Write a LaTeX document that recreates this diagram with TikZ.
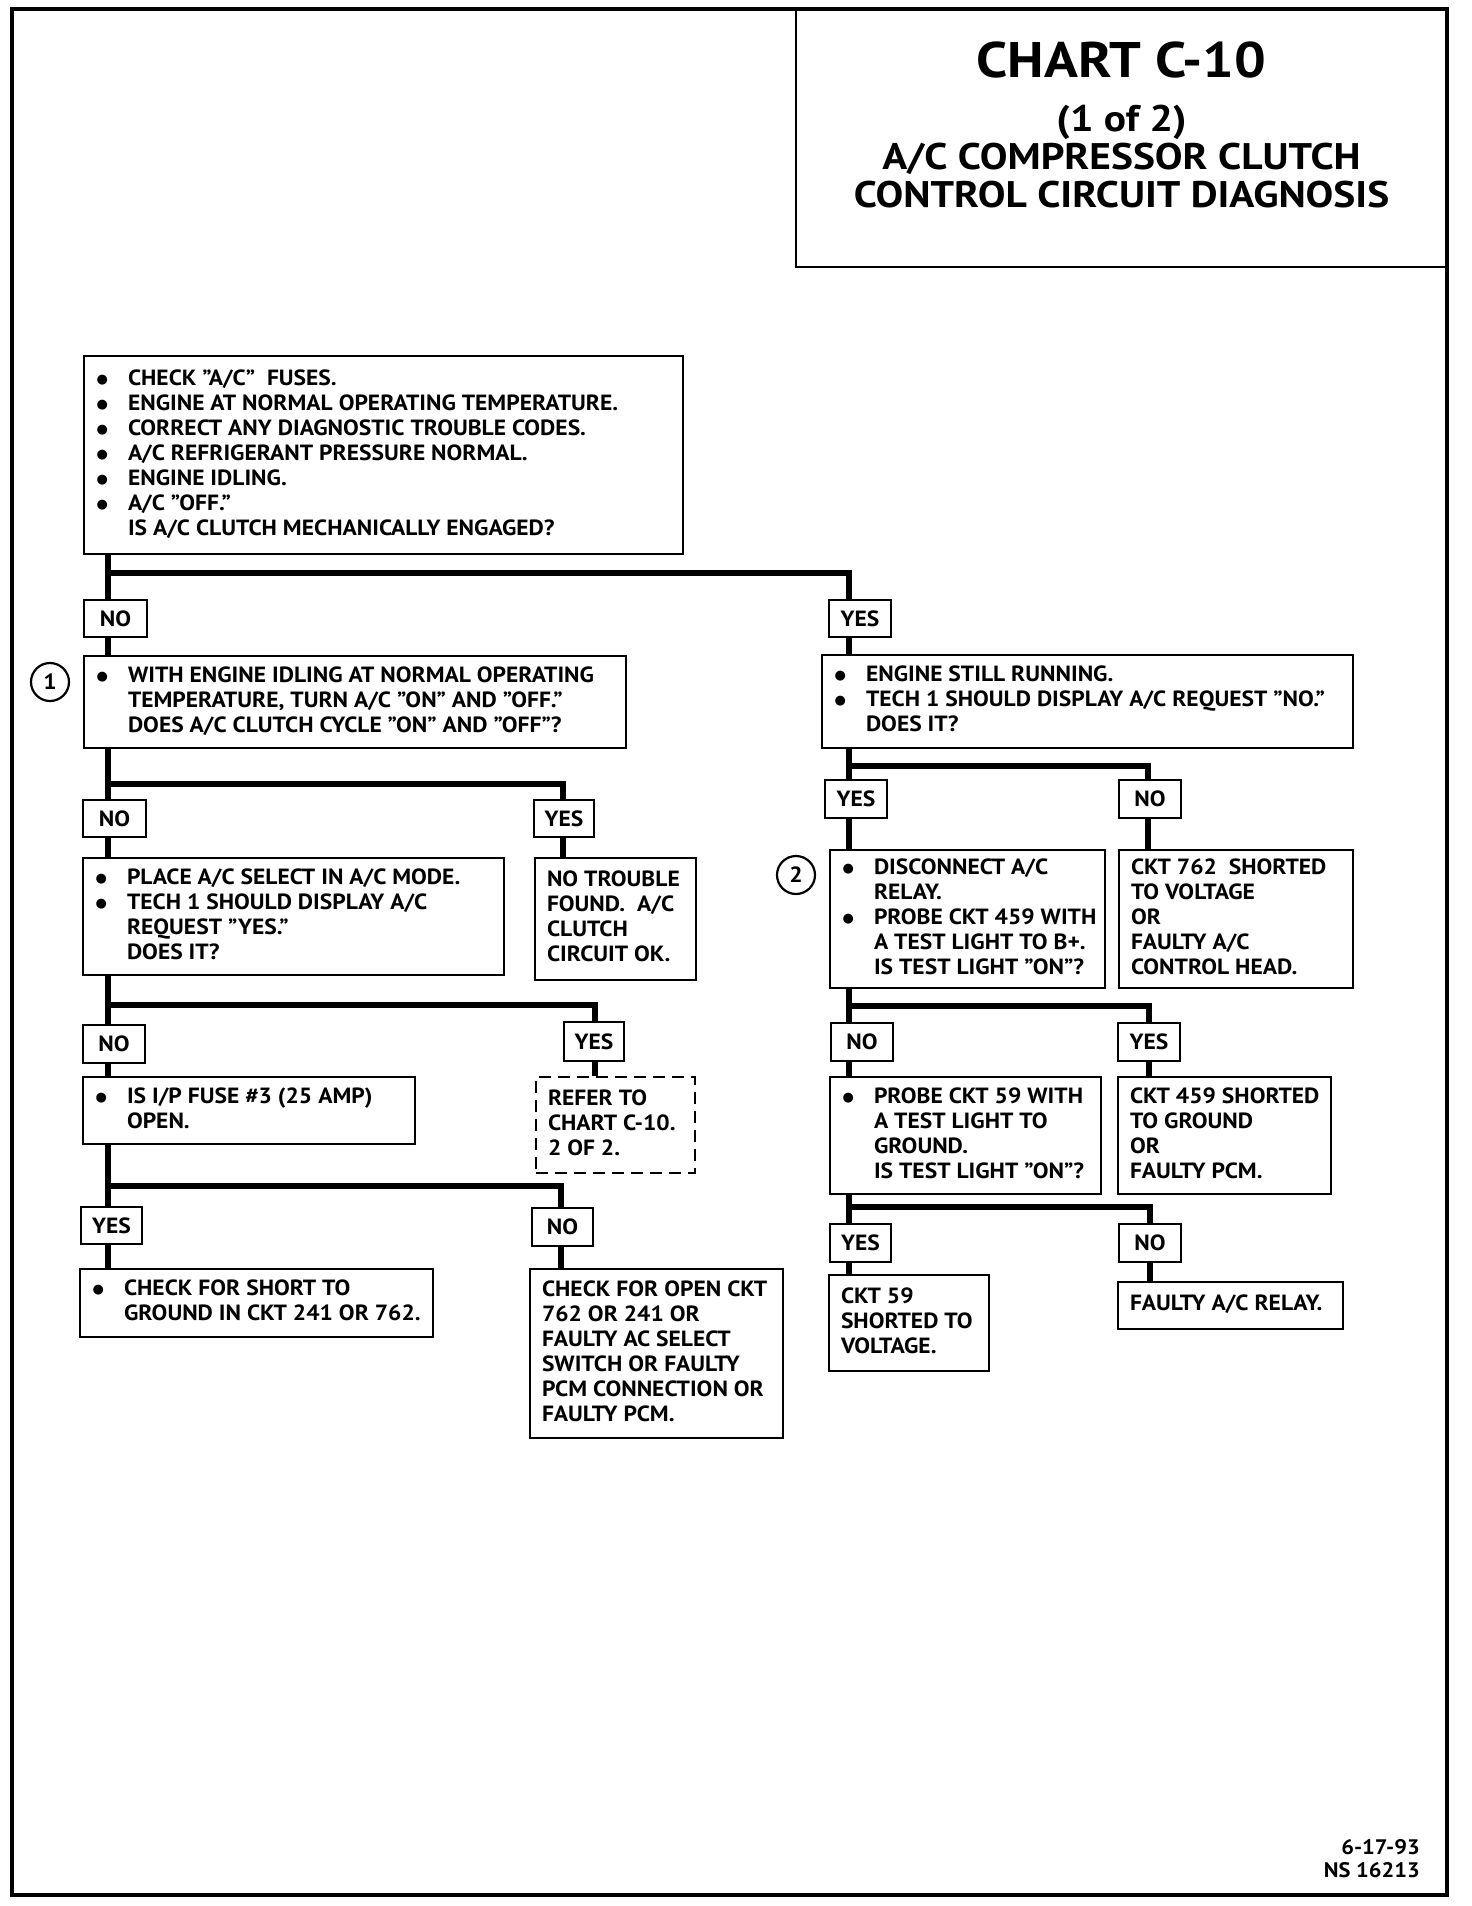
\documentclass[tikz,border=0pt]{standalone}
\usepackage{fontspec}
\setmainfont{PT Sans}[FakeStretch=1.07]
\newfontfamily\titlefont{PT Sans}[FakeStretch=1.12]
\newfontfamily\dotfont{DejaVu Sans}
\newcommand{\bl}[1]{\makebox[32pt][l]{\hspace*{0.5pt}\raisebox{1.8pt}{\dotfont\fontsize{13}{13}\selectfont ●}}#1}
\newcommand{\cl}[1]{\hspace*{32pt}#1}
\tikzset{
  boxst/.style={draw, line width=2.6pt, inner sep=0pt, fill=white, font=\bfseries\fontsize{22}{25}\selectfont},
  dashbox/.style={boxst, dash pattern=on 12pt off 7pt},
  labst/.style={draw, line width=2.6pt, inner sep=0pt, fill=white, font=\bfseries\fontsize{22}{25}\selectfont},
  conn/.style={line width=5.5pt},
  circst/.style={draw, circle, line width=2.2pt, minimum size=38pt, inner sep=0pt, font=\bfseries\fontsize{22}{25}\selectfont},
}
\newcommand{\mybox}[7][]{%
  \node[boxst,#1,minimum width={(#5-#3)*1pt},minimum height={(#6-#4)*1pt}] (#2) at ({(#3+#5)/2},{(#4+#6)/2})
   {\makebox[\dimexpr #5pt-#3pt-24pt\relax][l]{\begin{tabular}{@{}l@{}}#7\end{tabular}}};}
\newcommand{\lab}[6]{%
  \node[labst,minimum width={(#4-#2)*1pt},minimum height={(#5-#3)*1pt}] (#1) at ({(#2+#4)/2},{(#3+#5)/2}) {#6};}
\begin{document}
\begin{tikzpicture}[x=1pt,y=-1pt]
\useasboundingbox (0,0) rectangle (1472,1906);
% page frame
\draw[line width=4.5pt] (12,9) rectangle (1447,1895);
% title
\node[draw, line width=2.6pt, inner sep=0pt, minimum width=651pt, minimum height=258pt, font=\titlefont\bfseries] (title) at (1121.5,138)
 {\parbox[c][258pt][t]{640pt}{\centering\vspace*{33pt}{\fontsize{50}{38}\selectfont CHART C-10}\\[16pt]
  \fontsize{37}{38}\selectfont (1 of 2)\\A/C COMPRESSOR CLUTCH\\CONTROL CIRCUIT DIAGNOSIS\par}};
% boxes
\mybox{A}{84}{356}{683}{554}{\bl{CHECK "A/C"\ \ FUSES.}\\\bl{ENGINE AT NORMAL OPERATING TEMPERATURE.}\\\bl{CORRECT ANY DIAGNOSTIC TROUBLE CODES.}\\\bl{A/C REFRIGERANT PRESSURE NORMAL.}\\\bl{ENGINE IDLING.}\\\bl{A/C "OFF."}\\\cl{IS A/C CLUTCH MECHANICALLY ENGAGED?}}
\lab{NO1}{84}{600}{147}{637}{NO}
\lab{YES1}{829}{600}{891}{637}{YES}
\node[circst] (c1) at (50,682) {1};
\mybox{B}{84}{656}{626}{748}{\bl{WITH ENGINE IDLING AT NORMAL OPERATING}\\\cl{TEMPERATURE, TURN A/C "ON" AND "OFF."}\\\cl{DOES A/C CLUTCH CYCLE "ON" AND "OFF"?}}
\mybox{C}{822}{655}{1353}{748}{\bl{ENGINE STILL RUNNING.}\\\bl{TECH 1 SHOULD DISPLAY A/C REQUEST "NO."}\\\cl{DOES IT?}}
\lab{NO2}{83}{800}{146}{837}{NO}
\lab{YES2}{534}{800}{594}{837}{YES}
\mybox{D}{83}{858}{504}{975}{\bl{PLACE A/C SELECT IN A/C MODE.}\\\bl{TECH 1 SHOULD DISPLAY A/C}\\\cl{REQUEST "YES."}\\\cl{DOES IT?}}
\mybox{E}{535}{858}{696}{980}{NO TROUBLE\\FOUND.\ \ A/C\\CLUTCH\\CIRCUIT OK.}
\lab{NO3}{83}{1025}{145}{1063}{NO}
\lab{YES3}{564}{1022}{624}{1061}{YES}
\mybox{F}{83}{1077}{415}{1144}{\bl{IS I/P FUSE \#3 (25 AMP)}\\\cl{OPEN.}}
\mybox[dashbox]{G}{536}{1077}{695}{1173}{REFER TO\\CHART C-10.\\2 OF 2.}
\lab{YES4}{81}{1207}{142}{1244}{YES}
\lab{NO4}{532}{1208}{593}{1246}{NO}
\mybox{H}{80}{1269}{433}{1337}{\bl{CHECK FOR SHORT TO}\\\cl{GROUND IN CKT 241 OR 762.}}
\mybox{I}{530}{1269}{783}{1438}{CHECK FOR OPEN CKT\\762 OR 241 OR\\FAULTY AC SELECT\\SWITCH OR FAULTY\\PCM CONNECTION OR\\FAULTY PCM.}
\lab{YES5}{825}{780}{887}{818}{YES}
\lab{NO5}{1119}{780}{1181}{818}{NO}
\node[circst] (c2) at (796,875) {2};
\mybox{J}{830}{850}{1105}{988}{\bl{DISCONNECT A/C}\\\cl{RELAY.}\\\bl{PROBE CKT 459 WITH}\\\cl{A TEST LIGHT TO B+.}\\\cl{IS TEST LIGHT "ON"?}}
\mybox{K}{1119}{850}{1353}{988}{CKT 762\ \ SHORTED\\TO VOLTAGE\\OR\\FAULTY A/C\\CONTROL HEAD.}
\lab{NO6}{831}{1023}{893}{1061}{NO}
\lab{YES6}{1118}{1023}{1180}{1061}{YES}
\mybox{L}{830}{1077}{1101}{1194}{\bl{PROBE CKT 59 WITH}\\\cl{A TEST LIGHT TO}\\\cl{GROUND.}\\\cl{IS TEST LIGHT "ON"?}}
\mybox{M}{1118}{1077}{1331}{1194}{CKT 459 SHORTED\\TO GROUND\\OR\\FAULTY PCM.}
\lab{YES7}{830}{1224}{891}{1262}{YES}
\lab{NO7}{1119}{1224}{1181}{1262}{NO}
\mybox{N}{829}{1275}{989}{1371}{CKT 59\\SHORTED TO\\VOLTAGE.}
\mybox{O}{1118}{1282}{1343}{1329}{FAULTY A/C RELAY.}
% footer
\node[anchor=east, align=right, font=\bfseries\fontsize{21}{23}\selectfont, inner sep=0pt] (foot) at (1420,1859) {6-17-93\\NS 16213};
% trunk coordinates
\coordinate (tL) at (108,0);
\coordinate (tR) at (849,0);
\coordinate (bA) at (849,573);
\coordinate (bB) at (563,784);
\coordinate (bD) at (595,1005);
\coordinate (bF) at (561,1186);
\coordinate (bC) at (1148,766);
\coordinate (bJ) at (1149,1006);
\coordinate (bL) at (1150,1207);
% connectors left
\draw[conn] (A.south -| tL) -- (NO1.north -| tL);
\draw[conn] (tL |- bA) -| (YES1.north -| bA);
\draw[conn] (NO1.south -| tL) -- (B.north -| tL);
\draw[conn] (YES1.south -| bA) -- (C.north -| bA);
\draw[conn] (B.south -| tL) -- (NO2.north -| tL);
\draw[conn] (tL |- bB) -| (YES2.north -| bB);
\draw[conn] (NO2.south -| tL) -- (D.north -| tL);
\draw[conn] (YES2.south -| bB) -- (E.north -| bB);
\draw[conn] (D.south -| tL) -- (NO3.north -| tL);
\draw[conn] (tL |- bD) -| (YES3.north -| bD);
\draw[conn] (NO3.south -| tL) -- (F.north -| tL);
\draw[conn] (YES3.south -| bD) -- (G.north -| bD);
\draw[conn] (F.south -| tL) -- (YES4.north -| tL);
\draw[conn] (tL |- bF) -| (NO4.north -| bF);
\draw[conn] (YES4.south -| tL) -- (H.north -| tL);
\draw[conn] (NO4.south -| bF) -- (I.north -| bF);
% connectors right
\draw[conn] (C.south -| tR) -- (YES5.north -| tR);
\draw[conn] (tR |- bC) -| (NO5.north -| bC);
\draw[conn] (YES5.south -| tR) -- (J.north -| tR);
\draw[conn] (NO5.south -| bC) -- (K.north -| bC);
\draw[conn] (J.south -| tR) -- (NO6.north -| tR);
\draw[conn] (tR |- bJ) -| (YES6.north -| bJ);
\draw[conn] (NO6.south -| tR) -- (L.north -| tR);
\draw[conn] (YES6.south -| bJ) -- (M.north -| bJ);
\draw[conn] (L.south -| tR) -- (YES7.north -| tR);
\draw[conn] (tR |- bL) -| (NO7.north -| bL);
\draw[conn] (YES7.south -| tR) -- (N.north -| tR);
\draw[conn] (NO7.south -| bL) -- (O.north -| bL);
\end{tikzpicture}
\end{document}
